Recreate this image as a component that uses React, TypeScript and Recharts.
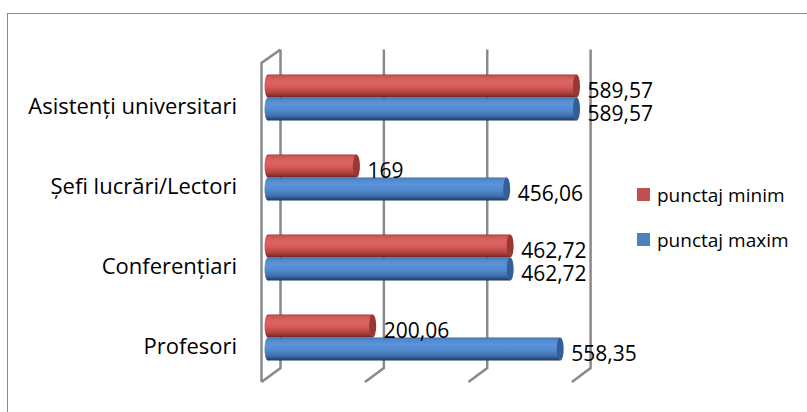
import { Bar, BarChart, CartesianGrid, LabelList, Legend, XAxis, YAxis } from "recharts";

const categories = ["Asistenți universitari", "Șefi lucrări/Lectori", "Conferențiari", "Profesori"];
const punctajMinim = [589.57, 169, 462.72, 200.06];
const punctajMaxim = [589.57, 456.06, 462.72, 558.35];
const xTicks = [0, 200, 400, 600];

const data = categories.map((name, i) => ({ name, min: punctajMinim[i], max: punctajMaxim[i] }));

const FONT = "'Open Sans', sans-serif";
const GRID = "#8a8a8a";

const fmt = (v: number) => (Number.isInteger(v) ? String(v) : v.toFixed(2).replace(".", ","));

function makeCylinder(gradId: string, cap: string) {
  return (props: any) => {
    const { x, y, width, height } = props;
    const ry = height / 2;
    const cy = y + ry;
    return (
      <g>
        <ellipse cx={x} cy={cy} rx={3.5} ry={ry} fill={`url(#${gradId})`} />
        <rect x={x} y={y} width={width} height={height} fill={`url(#${gradId})`} />
        <ellipse cx={x + width} cy={cy} rx={3.5} ry={ry} fill={cap} />
      </g>
    );
  };
}

const redCylinder = makeCylinder("gradRed", "#9a3633");
const blueCylinder = makeCylinder("gradBlue", "#345f95");

const ValueLabel = (props: any) => {
  const { x, y, width, height, value } = props;
  return (
    <text x={x + width + 11} y={y + height / 2 + 11.5} fontSize={21} fontFamily={FONT} fill="#000">
      {fmt(Number(value))}
    </text>
  );
};

const CategoryTick = (props: any) => {
  const { y, payload } = props;
  return (
    <text x={237} y={y + 16} textAnchor="end" fontSize={22} fontFamily={FONT} fill="#000">
      {payload.value}
    </text>
  );
};

// Excel-style 3D wall: back line, slanted floor edge, plus side wall on the first line
const gridLine = (props: any) => {
  const { x1, y1, y2, index } = props;
  const bx = x1 + 12.5 - index * 1.3;
  const fx = x1 - 6.5 - index * 1.2;
  let d = `M${bx},${y1 - 8} L${bx},${y2 - 9.5} L${fx},${y2 + 4.5}`;
  if (index === 0) d += ` M${bx},${y1 - 8} L${fx},${y1 + 5.5} L${fx},${y2 + 4.5}`;
  return <path key={`g${index}`} d={d} stroke={GRID} strokeWidth={2.5} fill="none" />;
};

const legendItems = [
  { label: "punctaj minim", color: "#c0504d" },
  { label: "punctaj maxim", color: "#4f81bd" },
];

const renderLegend = () => (
  <svg width={165} height={62} style={{ display: "block", overflow: "visible" }}>
    {legendItems.map((it, i) => (
      <g key={it.label}>
        <rect x={0} y={i * 45} width={13} height={13} fill={it.color} />
        <text x={20} y={i * 45 + 13.5} fontSize={19} fontFamily={FONT} fill="#000">
          {it.label}
        </text>
      </g>
    ))}
  </svg>
);

export default function App() {
  return (
    <div style={{ position: "absolute", left: 0, top: 0, width: 807, height: 412, overflow: "hidden", background: "#fff" }}>
      <div
        style={{
          position: "absolute",
          left: 7,
          top: 13,
          width: 830,
          height: 430,
          border: "1.5px solid #8a8a8a",
        }}
      />
      <BarChart
        width={807}
        height={412}
        data={data}
        layout="vertical"
        margin={{ top: 57.5, right: 225, left: 0, bottom: 34.5 }}
        barSize={23}
        barGap={0}
        style={{ position: "absolute", left: 0, top: 0 }}
      >
        <defs>
          <linearGradient id="gradRed" x1="0" y1="0" x2="0" y2="1">
            <stop offset="0" stopColor="#9e3a37" />
            <stop offset="0.08" stopColor="#cf5653" />
            <stop offset="0.3" stopColor="#dc6461" />
            <stop offset="0.55" stopColor="#d25a57" />
            <stop offset="0.8" stopColor="#b0433f" />
            <stop offset="0.93" stopColor="#852e2c" />
            <stop offset="1" stopColor="#5e1f1d" />
          </linearGradient>
          <linearGradient id="gradBlue" x1="0" y1="0" x2="0" y2="1">
            <stop offset="0" stopColor="#3b6aa8" />
            <stop offset="0.08" stopColor="#5187cc" />
            <stop offset="0.3" stopColor="#5b94da" />
            <stop offset="0.55" stopColor="#528ad0" />
            <stop offset="0.8" stopColor="#3e6fae" />
            <stop offset="0.93" stopColor="#2a4d7e" />
            <stop offset="1" stopColor="#1b3355" />
          </linearGradient>
        </defs>
        <CartesianGrid horizontal={false} vertical={gridLine} />
        <XAxis type="number" domain={[0, 600]} ticks={xTicks} hide />
        <YAxis
          type="category"
          dataKey="name"
          width={268}
          axisLine={false}
          tickLine={false}
          tick={CategoryTick}
        />
        <Legend
          layout="vertical"
          align="center"
          verticalAlign="middle"
          content={renderLegend}
          wrapperStyle={{ position: "absolute", left: 637, top: 188, width: 165 }}
        />
        <Bar dataKey="min" name="punctaj minim" fill="#c0504d" shape={redCylinder} isAnimationActive={false}>
          <LabelList dataKey="min" content={ValueLabel} />
        </Bar>
        <Bar dataKey="max" name="punctaj maxim" fill="#4f81bd" shape={blueCylinder} isAnimationActive={false}>
          <LabelList dataKey="max" content={ValueLabel} />
        </Bar>
      </BarChart>
    </div>
  );
}
